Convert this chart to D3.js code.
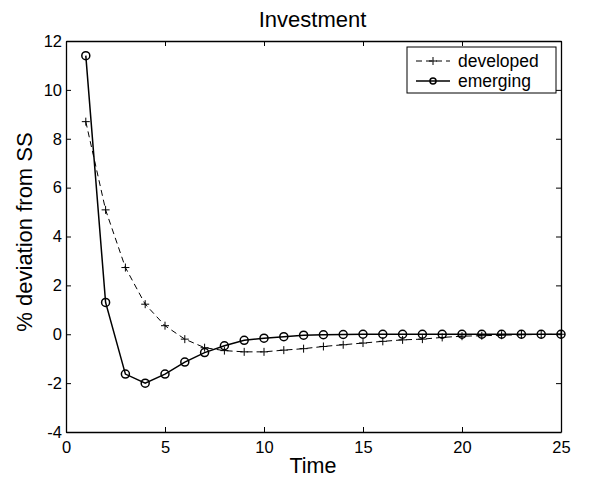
<!DOCTYPE html>
<html>
<head>
<meta charset="utf-8">
<script src="https://cdn.jsdelivr.net/npm/d3@7"></script>
<style>
  html, body { margin: 0; padding: 0; background: #fff; }
  svg { display: block; font-family: "Liberation Sans", Arial, sans-serif; }
</style>
</head>
<body>
<svg id="chart" width="589" height="481"></svg>
<script>
// Impulse response of investment, % deviation from steady state
const periods = d3.range(1, 26);
const developed = [8.7, 5.09, 2.73, 1.23, 0.35, -0.2, -0.55, -0.67, -0.72, -0.72, -0.65, -0.59,
  -0.5, -0.43, -0.36, -0.29, -0.23, -0.2, -0.13, -0.08, -0.06, -0.04, -0.02, -0.01, 0.0];
const emerging = [11.4, 1.3, -1.63, -2.0, -1.63, -1.14, -0.75, -0.47, -0.25, -0.16, -0.1, -0.04,
  -0.02, -0.01, 0.0, 0.0, 0.0, 0.0, 0.0, 0.0, 0.0, 0.0, 0.0, 0.0, 0.0];
const xTicks = [0, 5, 10, 15, 20, 25];
const yTicks = [-4, -2, 0, 2, 4, 6, 8, 10, 12];
const seriesNames = ["developed", "emerging"];

const svg = d3.select("#chart");
const plotLeft = 66, plotRight = 561, plotTop = 41, plotBottom = 432;

const x = d3.scaleLinear().domain([0, 25]).range([plotLeft, plotRight]);
const y = d3.scaleLinear().domain([-4, 12]).range([plotBottom, plotTop]);

const tickFont = 16.5;
const tickLen = 5;
const fontFamily = "Liberation Sans, Arial, sans-serif";
const plainNum = d => String(d);   // plain hyphen for negatives

// Axes: bottom/left with labels, top/right as plain frame ticks, all pointing inward
svg.append("g").attr("transform", `translate(0,${plotBottom})`)
  .call(d3.axisBottom(x).tickValues(xTicks).tickFormat(plainNum).tickSizeInner(-tickLen).tickSizeOuter(0).tickPadding(9))
  .call(g => g.attr("font-size", tickFont).attr("font-family", fontFamily))
  .call(g => g.selectAll("text").attr("fill", "#000"));
svg.append("g").attr("transform", `translate(${plotLeft},0)`)
  .call(d3.axisLeft(y).tickValues(yTicks).tickFormat(plainNum).tickSizeInner(-tickLen).tickSizeOuter(0).tickPadding(4))
  .call(g => g.attr("font-size", tickFont).attr("font-family", fontFamily))
  .call(g => g.selectAll("text").attr("fill", "#000"));
svg.append("g").attr("transform", `translate(0,${plotTop})`)
  .call(d3.axisTop(x).tickValues(xTicks).tickSizeInner(-tickLen).tickSizeOuter(0).tickFormat(""));
svg.append("g").attr("transform", `translate(${plotRight},0)`)
  .call(d3.axisRight(y).tickValues(yTicks).tickSizeInner(-tickLen).tickSizeOuter(0).tickFormat(""));
svg.selectAll(".domain").attr("stroke", "#000").attr("stroke-width", 1.3);
svg.selectAll(".tick line").attr("stroke", "#000");

const line = d3.line().x((d, i) => x(periods[i])).y(d => y(d));

// developed: dashed line with plus markers
svg.append("path").datum(developed)
  .attr("d", line).attr("fill", "none").attr("stroke", "#000")
  .attr("stroke-width", 1).attr("stroke-dasharray", "6,4");
const plus = (g, px, py, s) => {
  g.append("path").attr("d", `M${px - s},${py}H${px + s}M${px},${py - s}V${py + s}`)
    .attr("stroke", "#000").attr("stroke-width", 1).attr("fill", "none");
};
const gDev = svg.append("g");
developed.forEach((v, i) => plus(gDev, x(periods[i]), y(v), 4));

// emerging: solid line with open circles
svg.append("path").datum(emerging)
  .attr("d", line).attr("fill", "none").attr("stroke", "#000").attr("stroke-width", 1.5);
svg.append("g").selectAll("circle").data(emerging).join("circle")
  .attr("cx", (d, i) => x(periods[i])).attr("cy", d => y(d)).attr("r", 4)
  .attr("fill", "none").attr("stroke", "#000").attr("stroke-width", 1.5);

// Title and axis labels
svg.append("text").attr("x", 312.5).attr("y", 27).attr("text-anchor", "middle")
  .attr("font-size", 22).text("Investment");
svg.append("text").attr("x", 313).attr("y", 473).attr("text-anchor", "middle")
  .attr("font-size", 21.5).text("Time");
svg.append("text").attr("transform", `translate(32,232) rotate(-90)`)
  .attr("text-anchor", "middle").attr("font-size", 22).text("% deviation from SS");

// Legend
const lg = svg.append("g");
lg.append("rect").attr("x", 407).attr("y", 47).attr("width", 149).attr("height", 46)
  .attr("fill", "#fff").attr("stroke", "#000").attr("stroke-width", 1);
const rowY = [61, 81];
lg.append("line").attr("x1", 416).attr("x2", 450).attr("y1", rowY[0]).attr("y2", rowY[0])
  .attr("stroke", "#000").attr("stroke-dasharray", "6,4");
plus(lg, 433, rowY[0], 4);
lg.append("line").attr("x1", 416).attr("x2", 450).attr("y1", rowY[1]).attr("y2", rowY[1])
  .attr("stroke", "#000").attr("stroke-width", 1.5);
lg.append("circle").attr("cx", 433).attr("cy", rowY[1]).attr("r", 3)
  .attr("fill", "none").attr("stroke", "#000").attr("stroke-width", 1.5);
seriesNames.forEach((n, i) => {
  lg.append("text").attr("x", 458).attr("y", rowY[i] + 6).attr("font-size", 17.5).text(n);
});
</script>
</body>
</html>
